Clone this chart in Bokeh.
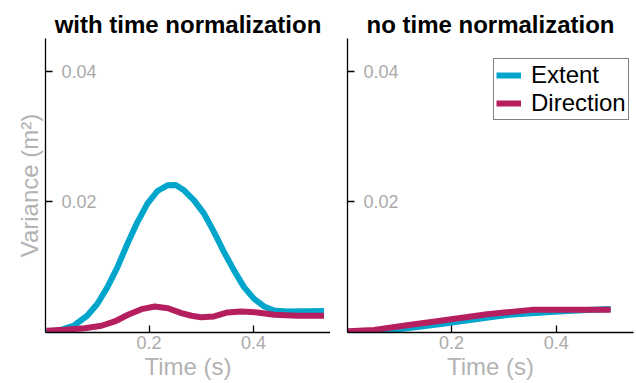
from bokeh.plotting import figure
from bokeh.layouts import row
from bokeh.models import FixedTicker, Legend, LegendItem, Range1d
from bokeh.core.properties import value
from bokeh.embed import file_html
from bokeh.resources import INLINE

titles = ["with time normalization", "no time normalization"]
series_names = ["Extent", "Direction"]
colors = ["#00A5CC", "#B51F5F"]
x_ticks = [0.2, 0.4]
y_ticks = [0.02, 0.04]
y_tick_labels = ["0.02", "0.04"]
x_label = "Time (s)"
y_label = "Variance (m\u00b2)"

# with time normalization
norm_extent_t = [0.0025, 0.031, 0.0566, 0.0822, 0.1013, 0.1205, 0.1396, 0.1587, 0.1778, 0.1969,
                 0.2161, 0.2352, 0.251, 0.2669, 0.286, 0.3052, 0.3243, 0.3434, 0.3625, 0.3816,
                 0.4008, 0.4199, 0.439, 0.4646, 0.5346]
norm_extent_v = [0.0, 0.0004, 0.00107, 0.0026, 0.0044, 0.00694, 0.01001, 0.01359, 0.0169, 0.01972,
                 0.02166, 0.02253, 0.02257, 0.02176, 0.02023, 0.01819, 0.01537, 0.01231, 0.00951, 0.00694,
                 0.00516, 0.00398, 0.00337, 0.00322, 0.0033]
norm_dir_t = [0.0038, 0.0388, 0.0771, 0.109, 0.1344, 0.1598, 0.1855, 0.2109, 0.2363, 0.2619,
              0.2811, 0.2989, 0.3243, 0.3499, 0.3753, 0.4073, 0.439, 0.4837, 0.5346]
norm_dir_v = [0.00026, 0.00041, 0.00066, 0.00103, 0.00169, 0.00271, 0.00357, 0.00398, 0.00372, 0.00296,
              0.00256, 0.00234, 0.00245, 0.00307, 0.00322, 0.00307, 0.00271, 0.00256, 0.00256]

# no time normalization
raw_extent_t = [0.002, 0.05, 0.1, 0.18, 0.27, 0.31, 0.36, 0.42, 0.47, 0.504]
raw_extent_v = [0.0, 0.0001, 0.0005, 0.0013, 0.0023, 0.0027, 0.003, 0.0033, 0.0035, 0.0036]
raw_dir_t = [0.002, 0.052, 0.115, 0.179, 0.268, 0.306, 0.357, 0.421, 0.504]
raw_dir_v = [0.0002, 0.0004, 0.0011, 0.0018, 0.0028, 0.0031, 0.0035, 0.0035, 0.0035]

FONT = "Liberation Sans"
H = 383


def make_fig(title, width, border_left, border_right, x_start, x_end, with_ylabel):
    p = figure(width=width, height=H, output_backend="svg", toolbar_location=None,
               x_range=Range1d(x_start, x_end), y_range=Range1d(0, 0.045),
               min_border_left=border_left, min_border_right=border_right,
               min_border_top=38, min_border_bottom=51)
    p.title.text = title
    p.title.text_font = FONT
    p.title.text_font_size = "24px"
    p.title.text_font_style = "bold"
    p.title.text_color = "black"
    p.title.align = "center"
    p.title.standoff = 1
    p.outline_line_color = None
    p.grid.visible = False
    p.background_fill_color = "white"
    p.border_fill_color = "white"
    for ax in (p.xaxis[0], p.yaxis[0]):
        ax.axis_line_color = "black"
        ax.axis_line_width = 1.3
        ax.major_tick_in = 7
        ax.major_tick_out = 0
        ax.major_tick_line_color = "black"
        ax.major_tick_line_width = 1.3
        ax.minor_tick_line_color = None
        ax.major_label_text_font = FONT
        ax.major_label_text_font_size = "18px"
        ax.major_label_text_color = "#aaaaaa"
        ax.axis_label_text_font = FONT
        ax.axis_label_text_font_size = "24px"
        ax.axis_label_text_font_style = "normal"
        ax.axis_label_text_color = "#b3b3b3"
    p.xaxis.ticker = FixedTicker(ticks=x_ticks)
    p.yaxis.ticker = FixedTicker(ticks=y_ticks)
    p.xaxis.major_label_standoff = 3
    p.xaxis.axis_label = x_label
    p.xaxis.axis_label_standoff = 1
    # y tick labels are drawn inside the plot area (see text glyphs below)
    p.yaxis.major_label_text_font_size = "0px"
    p.yaxis.major_label_overrides = {t: "" for t in y_ticks}
    p.yaxis.major_label_standoff = 0
    if with_ylabel:
        p.yaxis.axis_label = y_label
        p.yaxis.axis_label_standoff = 3
    p.text(x=[x_start] * len(y_ticks), y=y_ticks, text=y_tick_labels,
           x_offset=16, text_align="left", text_baseline="middle",
           text_font=value(FONT), text_font_size="18px", text_color="#aaaaaa")
    return p


p1 = make_fig(titles[0], 330, 45, 0, 0.002, 0.547, True)
p2 = make_fig(titles[1], 306, 17, 3, 0.0013, 0.5476, False)

kw = dict(line_width=6, line_join="round")
r1e = p1.line(norm_extent_t, norm_extent_v, line_color=colors[0], **kw)
r1d = p1.line(norm_dir_t, norm_dir_v, line_color=colors[1], **kw)
r2e = p2.line(raw_extent_t, raw_extent_v, line_color=colors[0], **kw)
r2d = p2.line(raw_dir_t, raw_dir_v, line_color=colors[1], **kw)

legend = Legend(items=[LegendItem(label=series_names[0], renderers=[r2e]),
                       LegendItem(label=series_names[1], renderers=[r2d])],
                location=(146, 212))
legend.label_text_font = FONT
legend.label_text_font_size = "24px"
legend.label_text_line_height = 1.0
legend.label_text_color = "black"
legend.border_line_color = "black"
legend.border_line_width = 1
legend.background_fill_color = "white"
legend.background_fill_alpha = 1
legend.padding = 2
legend.spacing = 0
legend.margin = 0
legend.glyph_width = 25
legend.label_standoff = 10
p2.add_layout(legend)

layout = row(p1, p2)
open("out.html", "w").write(file_html(layout, INLINE))
